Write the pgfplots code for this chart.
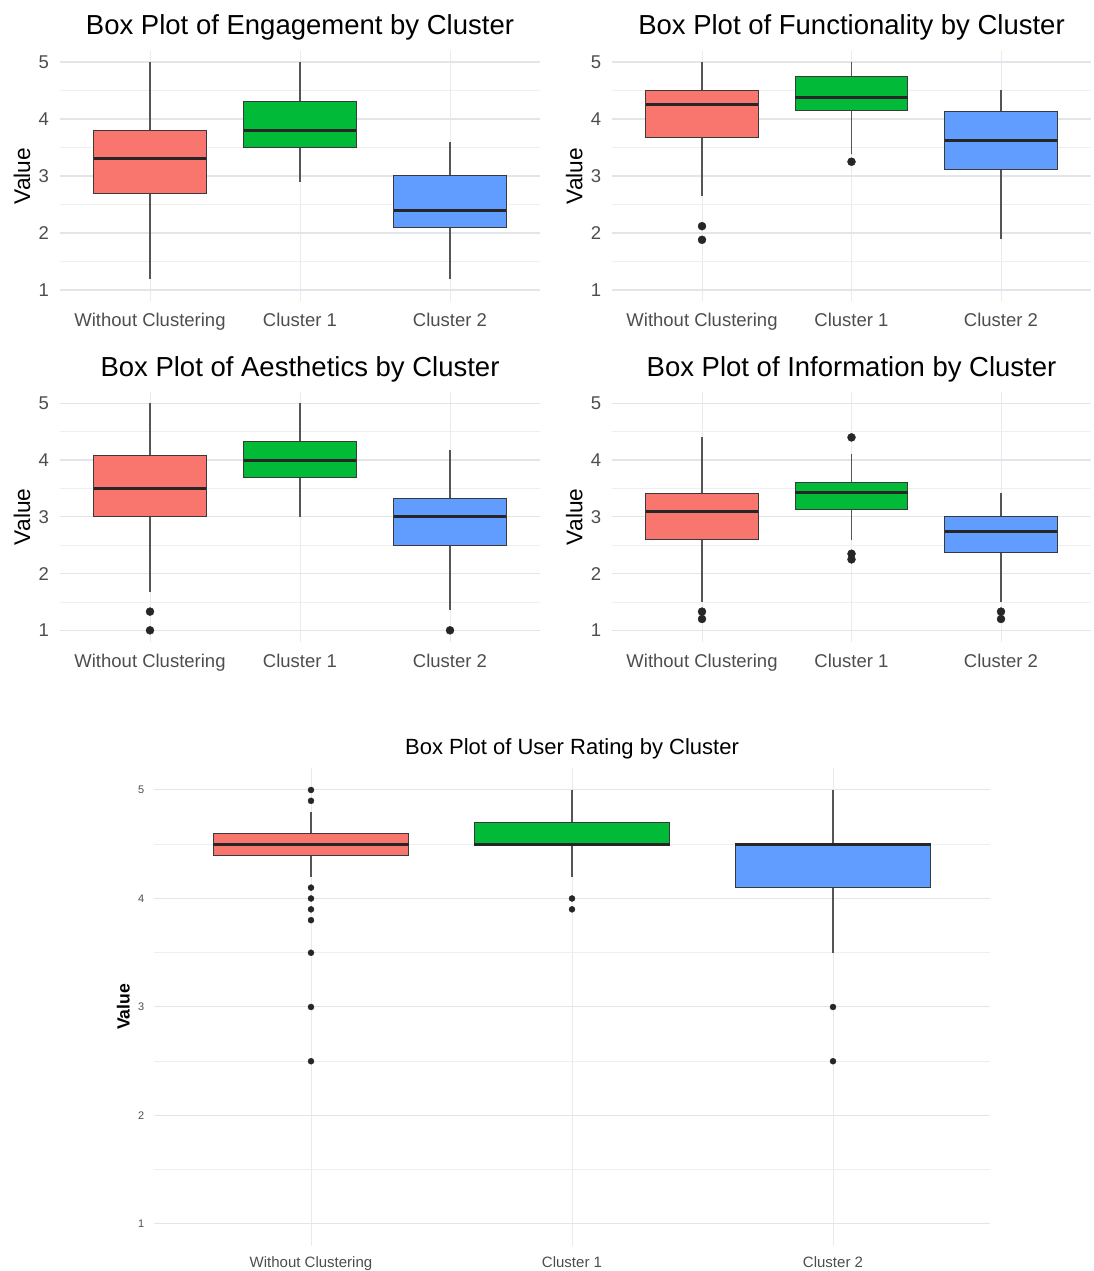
\documentclass[border=0pt]{standalone}
\usepackage{fontspec}
\setmainfont{Liberation Sans}
\usepackage{pgfplots}
\pgfplotsset{compat=1.18}
\usepgfplotslibrary{statistics}

\definecolor{ggred}{HTML}{F8766D}
\definecolor{gggreen}{HTML}{00BA38}
\definecolor{ggblue}{HTML}{619CFF}
\definecolor{gridmaj}{HTML}{E2E5EA}
\definecolor{gridmin}{HTML}{EEEFF2}
\definecolor{gridx}{HTML}{E8EAEE}
\definecolor{ticktxt}{HTML}{4D4D4D}
\definecolor{boxline}{HTML}{3A3A3A}
\definecolor{medline}{HTML}{262626}
\definecolor{whisk}{HTML}{555555}

\pgfplotsset{
  ggpanel/.style={
    scale only axis,
    xmin=0.4, xmax=3.6, ymin=0.8, ymax=5.2,
    xtick={1,2,3},
    xticklabels={Without Clustering, Cluster 1, Cluster 2},
    ytick={1,2,3,4,5},
    minor ytick={1.5,2.5,3.5,4.5},
    xmajorgrids, ymajorgrids, yminorgrids,
    axis line style={draw=none},
    major tick length=0pt, minor tick length=0pt,
    tick label style={text=ticktxt},
    /pgf/number format/assume math mode=true,
    boxplot/draw direction=y,
    boxplot/box extend=0.75,
    boxplot/whisker extend=0,
    boxplot/every whisker/.style={draw=whisk, line width=1.3pt},
    boxplot/every box/.style={draw=boxline, line width=1pt},
    boxplot/every median/.style={draw=medline, line width=3pt},
  },
  toppanel/.style={
    ggpanel,
    major y grid style={gridmaj, line width=1.2pt},
    major x grid style={gridx, line width=0.8pt},
    minor grid style={gridmin, line width=0.8pt},
    xticklabel style={font=\fontsize{18.5}{20}\selectfont, anchor=base, yshift=-25.5pt, inner sep=0pt},
    yticklabel style={font=\fontsize{18.5}{20}\selectfont, anchor=east, xshift=-11pt, inner sep=0pt},
    every axis title/.style={font=\fontsize{27.5}{30}\selectfont, at={(rel axis cs:0.5,1)}, anchor=base, yshift=15.6pt, inner sep=0pt},
    ylabel={Value},
    every axis y label/.style={font=\fontsize{22.7}{24}\selectfont, at={([xshift=-38pt]rel axis cs:0,0.5)}, anchor=center, rotate=90, inner sep=0pt},
    outl/.style={mark=*, mark size=4pt, mark options={draw=medline, fill=medline}},
  },
}

\begin{document}
\begin{tikzpicture}[x=1pt,y=1pt]
\useasboundingbox (0,0) rectangle (1093,1271);

% ---------- Engagement ----------
\begin{axis}[toppanel, at={(60pt,969.6pt)}, anchor=south west,
  width=480pt, height=250.8pt, title={Box Plot of Engagement by Cluster}]
\addplot[fill=ggred, boxplot prepared={draw position=1, lower whisker=1.2, lower quartile=2.7, median=3.3, upper quartile=3.8, upper whisker=5.0}] coordinates {};
\addplot[fill=gggreen, boxplot prepared={draw position=2, lower whisker=2.9, lower quartile=3.5, median=3.8, upper quartile=4.3, upper whisker=5.0}] coordinates {};
\addplot[fill=ggblue, boxplot prepared={draw position=3, lower whisker=1.2, lower quartile=2.1, median=2.4, upper quartile=3.0, upper whisker=3.6}] coordinates {};
\end{axis}

% ---------- Functionality ----------
\begin{axis}[toppanel, at={(612.3pt,969.6pt)}, anchor=south west,
  width=478.4pt, height=250.8pt, title={Box Plot of Functionality by Cluster}]
\addplot[fill=ggred, outl, boxplot prepared={draw position=1, lower whisker=2.65, lower quartile=3.68, median=4.25, upper quartile=4.5, upper whisker=5.0}] table[row sep=\\, y index=0] {y\\ 2.12\\ 1.88\\};
\addplot[fill=gggreen, outl, boxplot prepared={draw position=2, lower whisker=3.38, lower quartile=4.15, median=4.38, upper quartile=4.75, upper whisker=5.0}] table[row sep=\\, y index=0] {y\\ 3.25\\};
\addplot[fill=ggblue, boxplot prepared={draw position=3, lower whisker=1.9, lower quartile=3.12, median=3.62, upper quartile=4.13, upper whisker=4.5}] coordinates {};
\end{axis}

% ---------- Aesthetics ----------
\begin{axis}[toppanel, at={(60pt,629.3pt)}, anchor=south west,
  width=480pt, height=249.7pt, title={Box Plot of Aesthetics by Cluster}]
\addplot[fill=ggred, outl, boxplot prepared={draw position=1, lower whisker=1.67, lower quartile=3.0, median=3.5, upper quartile=4.08, upper whisker=5.0}] table[row sep=\\, y index=0] {y\\ 1.33\\ 1.0\\};
\addplot[fill=gggreen, boxplot prepared={draw position=2, lower whisker=3.0, lower quartile=3.7, median=4.0, upper quartile=4.33, upper whisker=5.0}] coordinates {};
\addplot[fill=ggblue, outl, boxplot prepared={draw position=3, lower whisker=1.35, lower quartile=2.5, median=3.0, upper quartile=3.33, upper whisker=4.17}] table[row sep=\\, y index=0] {y\\ 1.0\\};
\end{axis}

% ---------- Information ----------
\begin{axis}[toppanel, at={(612.3pt,629.3pt)}, anchor=south west,
  width=478.4pt, height=249.7pt, title={Box Plot of Information by Cluster}]
\addplot[fill=ggred, outl, boxplot prepared={draw position=1, lower whisker=1.5, lower quartile=2.6, median=3.1, upper quartile=3.42, upper whisker=4.4}] table[row sep=\\, y index=0] {y\\ 1.33\\ 1.2\\};
\addplot[fill=gggreen, outl, boxplot prepared={draw position=2, lower whisker=2.6, lower quartile=3.13, median=3.43, upper quartile=3.6, upper whisker=4.1}] table[row sep=\\, y index=0] {y\\ 4.4\\ 2.35\\ 2.25\\};
\addplot[fill=ggblue, outl, boxplot prepared={draw position=3, lower whisker=1.5, lower quartile=2.37, median=2.75, upper quartile=3.0, upper whisker=3.42}] table[row sep=\\, y index=0] {y\\ 1.33\\ 1.2\\};
\end{axis}

% ---------- User Rating ----------
\begin{axis}[ggpanel, at={(154.4pt,25.3pt)}, anchor=south west,
  width=835.2pt, height=477.4pt,
  major y grid style={gridmaj, line width=1pt},
  major x grid style={gridx, line width=0.7pt},
  minor grid style={gridmin, line width=0.7pt},
  xticklabel style={font=\fontsize{15}{16}\selectfont, anchor=base, yshift=-21.7pt, inner sep=0pt},
  yticklabel style={font=\fontsize{11}{12}\selectfont, anchor=east, xshift=-10pt, inner sep=0pt},
  title={Box Plot of User Rating by Cluster},
  every axis title/.style={font=\fontsize{22}{24}\selectfont, at={(rel axis cs:0.5,1)}, anchor=base, yshift=13.5pt, inner sep=0pt},
  ylabel={Value},
  every axis y label/.style={font=\fontsize{17.6}{19}\selectfont\bfseries, at={([xshift=-31pt]rel axis cs:0,0.5)}, anchor=center, rotate=90, inner sep=0pt},
  boxplot/every whisker/.style={draw=whisk, line width=1.1pt},
  outl/.style={mark=*, mark size=3pt, mark options={draw=medline, fill=medline}},
]
\addplot[fill=ggred, outl, boxplot prepared={draw position=1, lower whisker=4.2, lower quartile=4.4, median=4.5, upper quartile=4.6, upper whisker=4.8}] table[row sep=\\, y index=0] {y\\ 5.0\\ 4.9\\ 4.1\\ 4.0\\ 3.9\\ 3.8\\ 3.5\\ 3.0\\ 2.5\\};
\addplot[fill=gggreen, outl, boxplot prepared={draw position=2, lower whisker=4.2, lower quartile=4.5, median=4.5, upper quartile=4.7, upper whisker=5.0}] table[row sep=\\, y index=0] {y\\ 4.0\\ 3.9\\};
\addplot[fill=ggblue, outl, boxplot prepared={draw position=3, lower whisker=3.5, lower quartile=4.1, median=4.5, upper quartile=4.5, upper whisker=5.0}] table[row sep=\\, y index=0] {y\\ 3.0\\ 2.5\\};
\end{axis}
\end{tikzpicture}
\end{document}
